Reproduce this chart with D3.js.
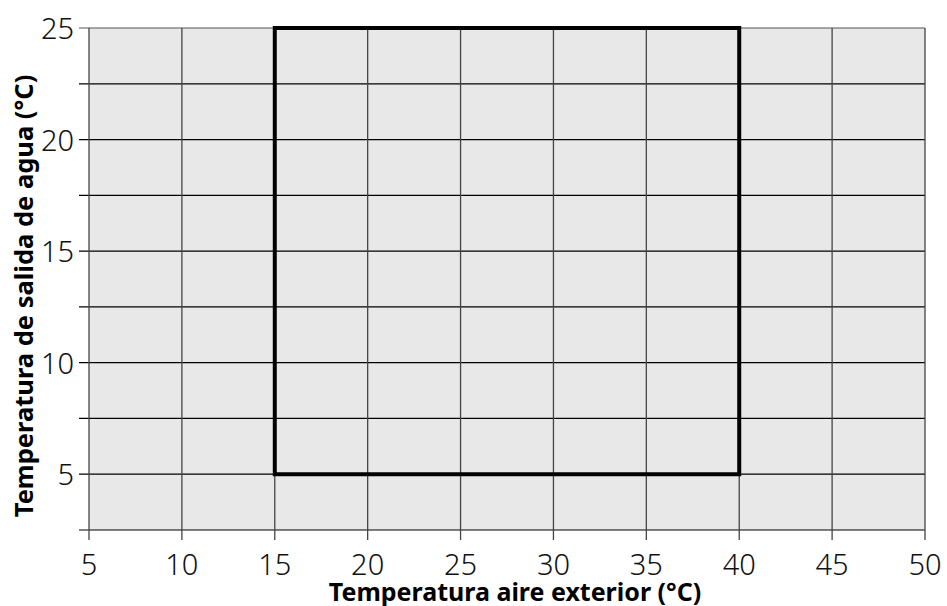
<!DOCTYPE html>
<html>
<head>
<meta charset="utf-8">
<script src="https://d3js.org/d3.v7.min.js"></script>
<style>
  body { margin: 0; background: #fff; }
  text { font-family: 'Noto Sans', 'DejaVu Sans', sans-serif; }
</style>
</head>
<body>
<script>
  // datos
  var xTicks = [5, 10, 15, 20, 25, 30, 35, 40, 45, 50];
  var yGrid = [2.5, 5, 7.5, 10, 12.5, 15, 17.5, 20, 22.5, 25];
  var yLabels = [5, 10, 15, 20, 25];
  var envelopeX = [15, 40, 40, 15];
  var envelopeY = [5, 5, 25, 25];
  var xTitle = "Temperatura aire exterior (°C)";
  var yTitle = "Temperatura de salida de agua (°C)";

  var width = 947, height = 606;
  var x = d3.scaleLinear().domain([5, 50]).range([89, 925]);
  var y = d3.scaleLinear().domain([2.5, 25]).range([530, 28]);

  var svg = d3.select("body").append("svg")
    .attr("width", width)
    .attr("height", height);

  // fondo
  svg.append("rect")
    .attr("x", x(5)).attr("y", y(25))
    .attr("width", x(50) - x(5)).attr("height", y(2.5) - y(25))
    .attr("fill", "#e8e8e8");

  // rejilla horizontal (con marca a la izquierda)
  svg.selectAll(".hgrid")
    .data(yGrid)
    .enter().append("line")
    .attr("x1", x(5) - 10).attr("x2", x(50))
    .attr("y1", function(d) { return y(d); })
    .attr("y2", function(d) { return y(d); })
    .attr("stroke", function(d) { return d == 25 ? "#555" : "#000"; })
    .attr("stroke-width", 1.2);

  // rejilla vertical (con marca abajo)
  svg.selectAll(".vgrid")
    .data(xTicks)
    .enter().append("line")
    .attr("x1", function(d) { return x(d); })
    .attr("x2", function(d) { return x(d); })
    .attr("y1", y(25)).attr("y2", y(2.5) + 10)
    .attr("stroke", "#444")
    .attr("stroke-width", 1.3);

  // etiquetas eje x
  svg.selectAll(".xlab")
    .data(xTicks)
    .enter().append("text")
    .attr("x", function(d) { return x(d); })
    .attr("y", 575)
    .attr("text-anchor", "middle")
    .attr("font-size", 29)
    .attr("font-weight", 300)
    .attr("fill", "#111")
    .text(function(d) { return d; });

  // etiquetas eje y
  svg.selectAll(".ylab")
    .data(yLabels)
    .enter().append("text")
    .attr("x", 74)
    .attr("y", function(d) { return y(d) + 11; })
    .attr("text-anchor", "end")
    .attr("font-size", 29)
    .attr("font-weight", 300)
    .attr("fill", "#111")
    .text(function(d) { return d; });

  // envolvente de funcionamiento
  var pts = envelopeX.map(function(v, i) { return [x(v), y(envelopeY[i])]; });
  svg.append("path")
    .attr("d", d3.line()(pts) + "Z")
    .attr("fill", "none")
    .attr("stroke", "#000")
    .attr("stroke-width", 4)
    .attr("stroke-linejoin", "miter");

  // títulos
  svg.append("text")
    .attr("x", 515).attr("y", 601)
    .attr("text-anchor", "middle")
    .attr("font-size", 25)
    .attr("font-weight", "bold")
    .text(xTitle);

  svg.append("text")
    .attr("transform", "translate(33,296) rotate(-90)")
    .attr("text-anchor", "middle")
    .attr("font-size", 25.5)
    .attr("font-weight", "bold")
    .text(yTitle);
</script>
</body>
</html>
